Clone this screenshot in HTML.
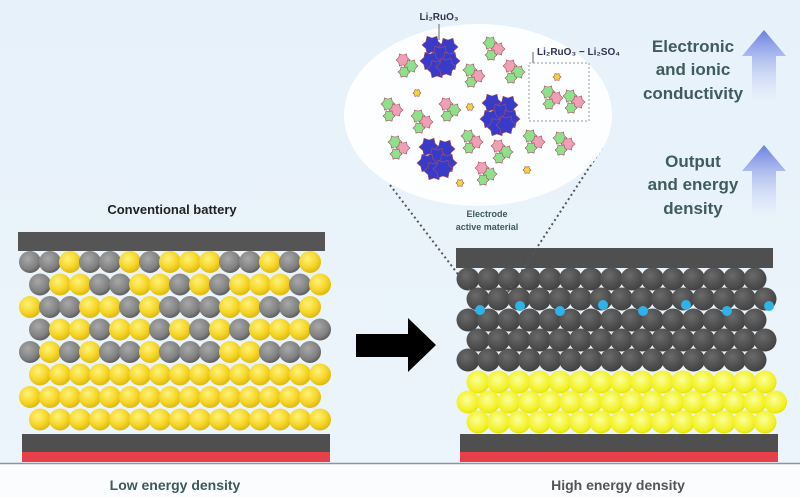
<!DOCTYPE html>
<html><head><meta charset="utf-8"><style>
html,body{margin:0;padding:0;background:#e9f3fb;}
svg{display:block}
text{font-family:"Liberation Sans",sans-serif;font-weight:bold}
</style></head><body>
<svg id="s" width="800" height="497" viewBox="0 0 800 497" xmlns="http://www.w3.org/2000/svg">
<defs>
<linearGradient id="bg" x1="0" y1="0" x2="0" y2="1"><stop offset="0" stop-color="#e6f1fa"/><stop offset="1" stop-color="#edf5fb"/></linearGradient>
<radialGradient id="yb" cx="0.4" cy="0.35" r="0.7"><stop offset="0" stop-color="#fff27a"/><stop offset="0.6" stop-color="#f5d526"/><stop offset="1" stop-color="#d9b40c"/></radialGradient>
<radialGradient id="gb" cx="0.4" cy="0.35" r="0.7"><stop offset="0" stop-color="#a8a8a8"/><stop offset="0.7" stop-color="#7f7f7f"/><stop offset="1" stop-color="#555"/></radialGradient>
<radialGradient id="db" cx="0.4" cy="0.35" r="0.7"><stop offset="0" stop-color="#6a6a6a"/><stop offset="1" stop-color="#3f3f3f"/></radialGradient>
<radialGradient id="yb2" cx="0.45" cy="0.4" r="0.7"><stop offset="0" stop-color="#fbff9a"/><stop offset="0.7" stop-color="#f2f020"/><stop offset="1" stop-color="#d8d000"/></radialGradient>
<linearGradient id="ar" x1="0" y1="0" x2="0" y2="1"><stop offset="0" stop-color="#6a7fe0"/><stop offset="1" stop-color="#e6eefb" stop-opacity="0.3"/></linearGradient>
</defs>
<rect width="800" height="497" fill="url(#bg)"/>
<rect y="464" width="800" height="33" fill="#fbfcfe"/>
<line x1="0" y1="463.5" x2="800" y2="463.5" stroke="#8a97a3" stroke-width="1.5"/>
<g id="left"></g>
<g id="right"></g>
<rect x="18" y="232" width="307" height="19" fill="#555"/>
<rect x="22" y="434" width="308" height="18" fill="#4f4f4f"/>
<rect x="22" y="452" width="308" height="10" fill="#e8404a"/>
<rect x="456" y="248" width="317" height="20" fill="#4f4f4f"/>
<rect x="460" y="434" width="318" height="18" fill="#4f4f4f"/>
<rect x="460" y="452" width="318" height="10" fill="#e8404a"/>
<polygon points="356,334 408,334 408,318 436,345 408,372 408,357 356,357" fill="#000"/>
<line x1="390" y1="185" x2="470" y2="290" stroke="#555" stroke-width="2" stroke-dasharray="2,3"/>
<line x1="602" y1="148" x2="506" y2="295" stroke="#555" stroke-width="2" stroke-dasharray="2,3"/>
<ellipse cx="478" cy="115" rx="134" ry="91" fill="#fdfeff"/>
<g id="cr"></g>
<rect x="529" y="63" width="60" height="58" fill="none" stroke="#999" stroke-dasharray="2,2"/>
<line x1="439" y1="24" x2="439" y2="40" stroke="#666"/>
<line x1="533" y1="52" x2="533" y2="63" stroke="#666"/>
<text x="439" y="20" font-size="10" fill="#335" text-anchor="middle">Li₂RuO₃</text>
<text x="537" y="55" font-size="10" fill="#335">Li₂RuO₃ − Li₂SO₄</text>
<text x="487" y="217" font-size="9" fill="#3d5a5a" text-anchor="middle">Electrode</text>
<text x="487" y="230" font-size="9" fill="#3d5a5a" text-anchor="middle">active material</text>
<g font-size="17" fill="#3f5c5c" text-anchor="middle">
<text x="693" y="52">Electronic</text>
<text x="693" y="75">and ionic</text>
<text x="693" y="99">conductivity</text>
<text x="693" y="167">Output</text>
<text x="693" y="190">and energy</text>
<text x="693" y="214">density</text>
</g>
<polygon points="764,30 786,56 776,56 776,100 752,100 752,56 742,56" fill="url(#ar)"/>
<polygon points="764,145 786,171 776,171 776,215 752,215 752,171 742,171" fill="url(#ar)"/>
<text x="172" y="214" font-size="13" fill="#222" text-anchor="middle">Conventional battery</text>
<text x="175" y="490" font-size="14" fill="#3d5a5a" text-anchor="middle">Low energy density</text>
<text x="618" y="490" font-size="14" fill="#555" text-anchor="middle">High energy density</text>
</svg>
<script>
var NS="http://www.w3.org/2000/svg";
function c(g,x,y,r,f){var e=document.createElementNS(NS,"circle");e.setAttribute("cx",x);e.setAttribute("cy",y);e.setAttribute("r",r);e.setAttribute("fill",f);g.appendChild(e);}
var L=document.getElementById("left");
var greys=[[30,50,90,110,150,230,250,290],[40,100,120,180,220,300],[50,70,130,170,190,210,270,290],[40,100,160,200,240,320],[30,70,110,130,170,190,210,270,290,310],[],[],[]];
for(var i=0;i<8;i++){var y=262+i*22.5;var st=(i%2==0)?30:40;
 for(var k=0;k<15;k++){var x=st+k*20;if(x>322)continue;
  var g=greys[i].some(function(v){return Math.abs(v-x)<6});
  c(L,x,y,11,g?"url(#gb)":"url(#yb)");}}
var R=document.getElementById("right");
var gy=[279,299,320,340,360];
for(var i=0;i<5;i++){var st=(i%2==0)?468:478;for(var k=0;k<16;k++){var x=st+k*20.5;if(x>775)continue;c(R,x,gy[i],11.5,"url(#db)");}}
var yy=[382,402,422];
for(var i=0;i<3;i++){var st=(i%2==0)?478:468;for(var k=0;k<16;k++){var x=st+k*20.5;if(x>778)continue;c(R,x,yy[i],11.5,"url(#yb2)");}}
[480,520,560,603,643,686,727,769].forEach(function(x,i){c(R,x,[310,306,311,305,311,305,311,306][i],5,"#2fb2e8");});
var C=document.getElementById("cr");
function star(x,y,r,f){var p=[];for(var j=0;j<12;j++){var a=j*Math.PI/6,rr=j%2?r*0.7:r;p.push((x+rr*Math.cos(a)).toFixed(1)+","+(y+rr*Math.sin(a)).toFixed(1));}
 var e=document.createElementNS(NS,"polygon");e.setAttribute("points",p.join(" "));e.setAttribute("fill",f);e.setAttribute("stroke","#a05060");e.setAttribute("stroke-width","0.6");C.appendChild(e);}
var cl=[[403,60],[490,43],[470,70],[510,66],[388,104],[418,116],[446,104],[395,142],[468,136],[498,146],[530,136],[560,138],[482,168],[548,92],[570,96]];
cl.forEach(function(p,i){star(p[0],p[1],7,i%3==0?"#f0a0b4":"#8fe08a");star(p[0]+8,p[1]+6,7,i%3==0?"#8fe08a":"#f0a0b4");star(p[0]+1,p[1]+12,6,"#8fe08a");});
[[440,55],[500,113],[437,157]].forEach(function(p){for(var j=0;j<7;j++){star(p[0]+[-8,8,0,-10,10,-3,6][j],p[1]+[-10,-8,0,6,6,14,12][j],10,"#3a3ac8");}});
[[417,93],[470,107],[557,77],[527,170],[460,183]].forEach(function(p){star(p[0],p[1],4,"#f3d33a");});
</script>
</body></html>
